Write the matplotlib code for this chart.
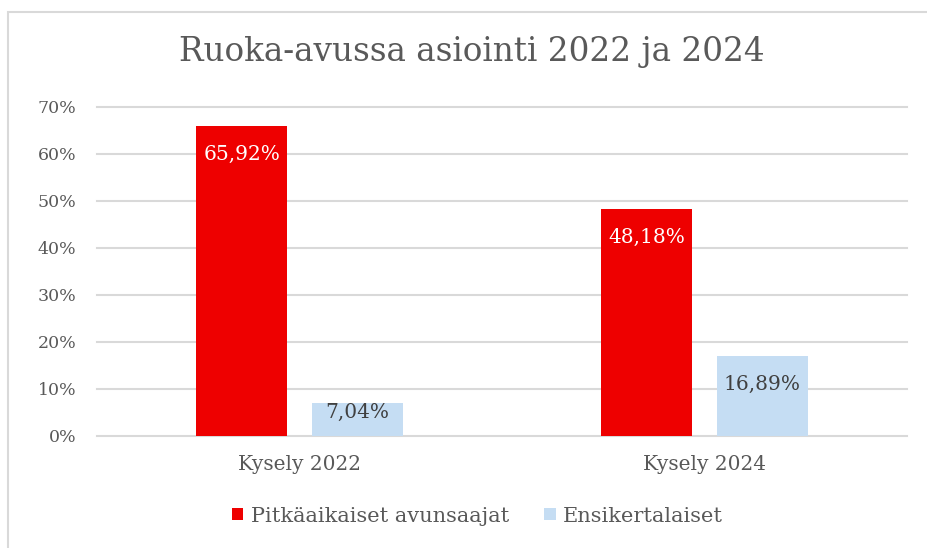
import numpy as np
import matplotlib.pyplot as plt
from matplotlib.patches import Rectangle

categories = ["Kysely 2022", "Kysely 2024"]
series_names = ["Pitkäaikaiset avunsaajat", "Ensikertalaiset"]
pitkaaikaiset = [65.92, 48.18]
ensikertalaiset = [7.04, 16.89]
y_ticks = [0, 10, 20, 30, 40, 50, 60, 70]

RED = "#EE0000"
BLUE = "#C5DDF3"
TEXT = "#595959"
GRID = "#D9D9D9"

plt.rcParams['font.family'] = ['DejaVu Serif']

fig = plt.figure(figsize=(9.27, 5.48), dpi=100)
W, H = 927, 548

# chart frame (light grey border, cropped at right/bottom)
fig.patches.append(Rectangle((8 / W, -0.05), 1.05, 1 - 12 / H + 0.05,
                             transform=fig.transFigure, fill=False,
                             edgecolor=GRID, linewidth=1.5))

ax = fig.add_axes([97 / W, 1 - 435.7 / H, (907 - 97) / W, (435.7 - 106.7) / H])

x = np.arange(len(categories))
width = 0.224
offset = 0.143
bars1 = ax.bar(x - offset, pitkaaikaiset, width, color=RED, label=series_names[0], zorder=2)
bars2 = ax.bar(x + offset, ensikertalaiset, width, color=BLUE, label=series_names[1], zorder=2)


def label_bars(bars, values, color):
    for b, v in zip(bars, values):
        y = max(v - 6.0, 4.9) if v > 10 else 4.9
        ax.text(b.get_x() + b.get_width() / 2, y, f"{v:.2f}%".replace(".", ","),
                ha="center", va="center", color=color, fontsize=14.5, zorder=3)


label_bars(bars1, pitkaaikaiset, "white")
label_bars(bars2, ensikertalaiset, "#404040")

ax.set_xlim(-0.5, 1.5)
ax.set_ylim(0, 70)
ax.set_yticks(y_ticks)
ax.set_yticklabels([f"{t}%" for t in y_ticks])
ax.set_xticks(x)
ax.set_xticklabels(categories)
ax.yaxis.grid(True, color=GRID, linewidth=1.5, zorder=0)
for gl in ax.get_ygridlines():
    gl.set_clip_on(False)
ax.set_axisbelow(True)
for s in ax.spines.values():
    s.set_visible(False)
ax.tick_params(axis="both", length=0, colors=TEXT)
ax.tick_params(axis="y", pad=15, labelsize=12.5)
ax.tick_params(axis="x", pad=14, labelsize=14.5)

fig.text(472 / W, 1 - 52 / H, "Ruoka-avussa asiointi 2022 ja 2024",
         ha="center", va="center", fontsize=23.5, color=TEXT)

leg = fig.legend(loc="center", bbox_to_anchor=(477.5 / W, 1 - 516 / H), ncol=2,
                 frameon=False, fontsize=15, handlelength=0.55, handleheight=0.55,
                 handletextpad=0.35, columnspacing=1.7)
for t in leg.get_texts():
    t.set_color(TEXT)

fig.savefig("out.png", dpi=100)
